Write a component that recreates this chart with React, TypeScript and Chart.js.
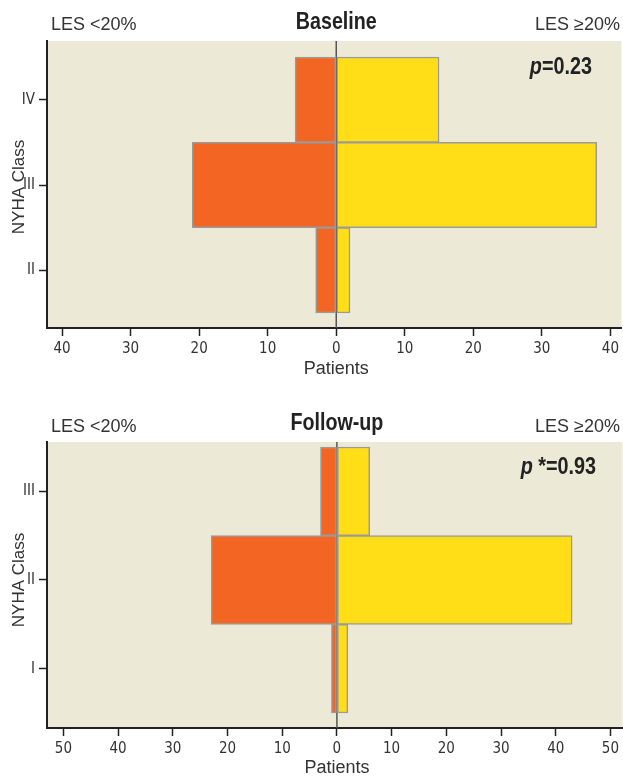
import React, { useEffect, useRef } from "react";
import { Chart, registerables } from "chart.js";

Chart.register(...registerables);

// ---------- data ----------
const baselineClasses = ["II", "III", "IV"];
const baselineLow = [3, 21, 6]; // LES <20%
const baselineHigh = [2, 38, 15]; // LES >=20%
const baselineTicks = [-40, -30, -20, -10, 0, 10, 20, 30, 40];

const followClasses = ["I", "II", "III"];
const followLow = [1, 23, 3];
const followHigh = [2, 43, 6];
const followTicks = [-50, -40, -30, -20, -10, 0, 10, 20, 30, 40, 50];

const NARROW = '"Liberation Sans Narrow", "DejaVu Sans Condensed", "Arial Narrow", sans-serif';
const REG = '"Liberation Sans", Arial, sans-serif';
const ORANGE = "#F26522";
const YELLOW = "#FFDE17";
const BG = "#ECE9D7";
const W = 623;
const H = 389;

type Cfg = {
  classes: string[];
  low: number[];
  high: number[];
  ticks: number[];
  xMin: number;
  xMax: number;
  yMin: number;
  yMax: number;
  padTop: number;
  axisH: number;
  title: string;
  titleY: number;
  lesY: number;
  pStar: string;
  pVal: string;
  pRight: number;
  pY: number;
  patientsY: number;
  nyhaY: number;
};

function scaledText(ctx: CanvasRenderingContext2D, text: string, x: number, y: number, sx: number, align: "left" | "right" | "center") {
  const w = ctx.measureText(text).width * sx;
  let left = x;
  if (align === "right") left = x - w;
  else if (align === "center") left = x - w / 2;
  ctx.save();
  ctx.translate(left, y);
  ctx.scale(sx, 1);
  ctx.textAlign = "left";
  ctx.fillText(text, 0, 0);
  ctx.restore();
  return w;
}

function PyramidChart({ cfg }: { cfg: Cfg }) {
  const ref = useRef<HTMLCanvasElement | null>(null);
  useEffect(() => {
    if (!ref.current) return;
    const idx = cfg.classes.map((_, i) => i + 1 + (cfg.classes[0] === "II" ? 1 : 0));
    const labelOf: Record<number, string> = {};
    idx.forEach((v, i) => (labelOf[v] = cfg.classes[i]));

    const decor = {
      id: "decor",
      beforeDraw(chart: any) {
        const { ctx, chartArea: a } = chart;
        ctx.save();
        ctx.fillStyle = BG;
        ctx.fillRect(a.left, a.top, a.right - a.left, a.bottom - a.top);
        ctx.restore();
      },
      beforeDatasetsDraw(chart: any) {
        const { ctx, chartArea: a } = chart;
        const x0 = chart.scales.x.getPixelForValue(0);
        ctx.save();
        ctx.strokeStyle = "#555";
        ctx.lineWidth = 1.5;
        ctx.beginPath();
        ctx.moveTo(x0, a.top);
        ctx.lineTo(x0, a.bottom);
        ctx.stroke();
        ctx.restore();
      },
      afterDraw(chart: any) {
        const { ctx } = chart;
        const x0 = chart.scales.x.getPixelForValue(0);
        ctx.save();
        ctx.textBaseline = "middle";
        // title
        ctx.fillStyle = "#222";
        ctx.font = `bold 24px ${REG}`;
        scaledText(ctx, cfg.title, x0, cfg.titleY, 0.82, "center");
        // LES labels
        ctx.fillStyle = "#333";
        ctx.font = `18px ${REG}`;
        scaledText(ctx, "LES <20%", 51, cfg.lesY, 1, "left");
        scaledText(ctx, "LES \u226520%", 620, cfg.lesY, 1, "right");
        // p value
        ctx.fillStyle = "#222";
        ctx.font = `bold 23px ${REG}`;
        const rest = cfg.pStar + "=" + cfg.pVal;
        const wRest = scaledText(ctx, rest, cfg.pRight, cfg.pY, 0.86, "right");
        ctx.font = `italic bold 23px ${REG}`;
        scaledText(ctx, "p", cfg.pRight - wRest, cfg.pY, 0.86, "right");
        // Patients
        ctx.fillStyle = "#333";
        ctx.font = `18px ${REG}`;
        ctx.textAlign = "center";
        ctx.fillText("Patients", x0, cfg.patientsY);
        // NYHA Class
        ctx.translate(19, cfg.nyhaY);
        ctx.rotate(-Math.PI / 2);
        ctx.font = `17px ${REG}`;
        ctx.fillText("NYHA Class", 0, 0);
        ctx.restore();
      },
    };

    const chart = new Chart(ref.current, {
      type: "bar",
      data: {
        datasets: [
          {
            label: "LES <20%",
            data: cfg.low.map((v, i) => ({ x: -v, y: idx[i] })),
            backgroundColor: ORANGE,
            borderColor: "#9a9a9a",
            borderWidth: 1.5,
            borderSkipped: false,
            barPercentage: 1,
            categoryPercentage: 1,
          },
          {
            label: "LES \u226520%",
            data: cfg.high.map((v, i) => ({ x: v, y: idx[i] })),
            backgroundColor: YELLOW,
            borderColor: "#9a9a9a",
            borderWidth: 1.5,
            borderSkipped: false,
            barPercentage: 1,
            categoryPercentage: 1,
          },
        ],
      },
      options: {
        indexAxis: "y",
        animation: false,
        responsive: false,
        devicePixelRatio: 1,
        layout: { padding: { top: cfg.padTop, left: 0, right: 0, bottom: 0 } },
        plugins: { legend: { display: false }, tooltip: { enabled: false }, title: { display: false } },
        scales: {
          x: {
            type: "linear",
            min: cfg.xMin,
            max: cfg.xMax,
            stacked: true,
            offset: false,
            afterBuildTicks: (s: any) => {
              s.ticks = cfg.ticks.map((v) => ({ value: v }));
            },
            afterFit: (s: any) => {
              s.height = cfg.axisH;
            },
            ticks: {
              callback: (v: any) => String(Math.abs(Number(v))),
              font: { family: NARROW, size: 15 },
              color: "#333",
              padding: 4,
              maxRotation: 0,
              autoSkip: false,
            },
            grid: { drawOnChartArea: false, drawTicks: true, tickLength: 8, color: "#222", tickWidth: 1.5, offset: false },
            border: { display: true, color: "#222", width: 2 },
          },
          y: {
            type: "linear",
            min: cfg.yMin,
            max: cfg.yMax,
            stacked: true,
            offset: false,
            afterBuildTicks: (s: any) => {
              s.ticks = idx.map((v) => ({ value: v }));
            },
            afterFit: (s: any) => {
              s.width = 47;
            },
            ticks: {
              callback: (v: any) => labelOf[Number(v)] ?? "",
              font: { family: NARROW, size: 15 },
              color: "#333",
              padding: 4,
              autoSkip: false,
            },
            grid: { drawOnChartArea: false, drawTicks: true, tickLength: 8, color: "#222", tickWidth: 1.5, offset: false },
            border: { display: true, color: "#222", width: 2 },
          },
        },
      } as any,
      plugins: [decor],
    });
    return () => chart.destroy();
  }, [cfg]);
  return <canvas ref={ref} width={W} height={H} style={{ display: "block", width: W, height: H }} />;
}

const topCfg: Cfg = {
  classes: baselineClasses,
  low: baselineLow,
  high: baselineHigh,
  ticks: baselineTicks,
  xMin: -42.2,
  xMax: 41.6,
  yMin: 1.324,
  yMax: 4.688,
  padTop: 41,
  axisH: H - 328,
  title: "Baseline",
  titleY: 22,
  lesY: 25,
  pStar: "",
  pVal: "0.23",
  pRight: 592,
  pY: 68,
  patientsY: 369,
  nyhaY: 187,
};

const botCfg: Cfg = {
  classes: followClasses,
  low: followLow,
  high: followHigh,
  ticks: followTicks,
  xMin: -53,
  xMax: 52.2,
  yMin: 0.331,
  yMax: 3.556,
  padTop: 53,
  axisH: H - 339,
  title: "Follow-up",
  titleY: 34,
  lesY: 38,
  pStar: " *",
  pVal: "0.93",
  pRight: 596,
  pY: 79,
  patientsY: 379,
  nyhaY: 191,
};

export default function App() {
  return (
    <div style={{ position: "absolute", left: 0, top: 0, width: W, height: 778, background: "#fff" }}>
      <PyramidChart cfg={topCfg} />
      <PyramidChart cfg={botCfg} />
    </div>
  );
}
